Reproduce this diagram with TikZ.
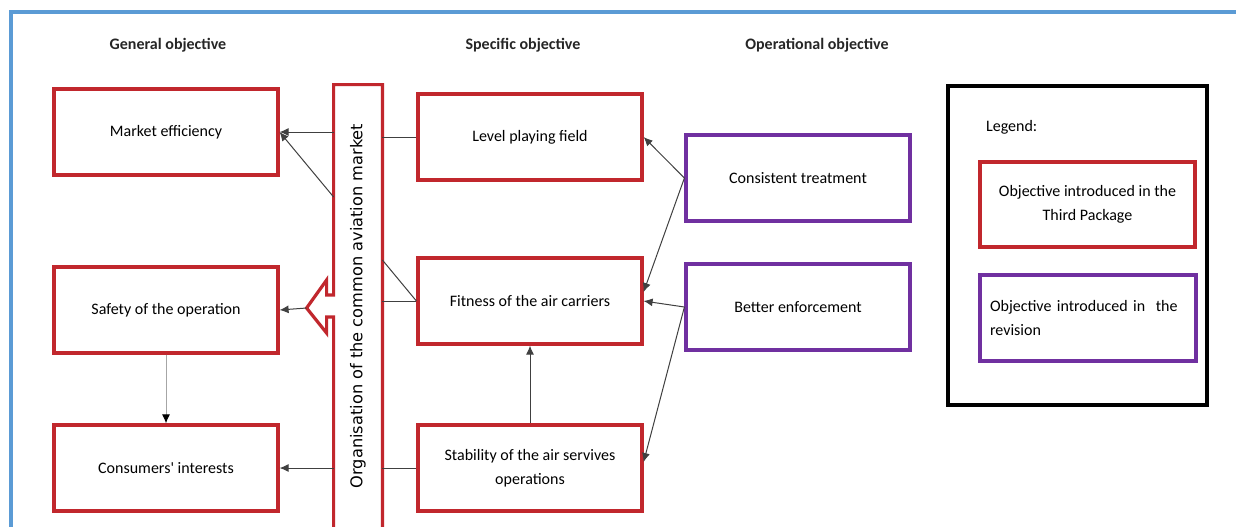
\documentclass[tikz,border=0pt]{standalone}
\usepackage{fontspec}
\setmainfont{Carlito}
\newfontfamily\orgfont{DejaVu Sans}
\usepackage{graphicx}
\usetikzlibrary{positioning, arrows.meta}
\definecolor{boxred}{HTML}{C1272D}
\definecolor{boxpurple}{HTML}{7030A0}
\definecolor{frameblue}{HTML}{5B9BD5}
\definecolor{linegray}{HTML}{404040}

\begin{document}
\begin{tikzpicture}[x=0.5pt,y=-0.5pt,
>={Latex[length=4.5pt,width=4pt]},
obj/.style={draw=boxred,line width=1.6pt,minimum width=112pt,minimum height=43pt,align=center,font=\fontsize{8}{12}\selectfont},
opobj/.style={obj,draw=boxpurple},
head/.style={font=\fontsize{8}{10}\selectfont\bfseries,text=black!85},
link/.style={draw=linegray,line width=0.5pt},
arr/.style={link,->}
]
\useasboundingbox (0,0) rectangle (1236,526);
\clip (0,0) rectangle (1236,526);
\fill[white] (0,0) rectangle (1236,526);
\draw[frameblue,line width=2pt] (10.5,540) -- (10.5,12) -- (1250,12);

% column titles
\node[head] (hgen) at (168,45) {General objective};
\node[head] (hspec) at (523,45) {Specific objective};
\node[head] (hop) at (817,45) {Operational objective};

% general objectives
\node[obj] (mkt) at (166,132) {Market efficiency};
\node[obj] (safety) at (166,310) {Safety of the operation};
\node[obj] (cons) at (166,468) {Consumers\textquotesingle\ interests};

% specific objectives
\node[obj] (lpf) at (530,137) {Level playing field};
\node[obj] (fit) at (530,301) {Fitness of the air carriers};
\node[obj] (stab) at (530,468) {Stability of the air servives\\operations};

% operational objectives
\node[opobj] (ct) at (798,178) {Consistent treatment};
\node[opobj] (be) at (798,307) {Better enforcement};

% common market bar with arrow
\node[minimum width=24pt,minimum height=221pt,inner sep=0pt] (org) at (358,306)
  {\orgfont\fontsize{8.1}{9}\selectfont\rotatebox{90}{Organisation of the common aviation market}};
\draw[boxred,line width=1.6pt] (org.south west) -- (org.west |- 0,317) -- ++(-7,0) -- ++(0,16)
  -- ++(-20,-25) coordinate (tip) -- ++(20,-28) -- ++(0,15) -- (org.west |- 0,295)
  -- (org.north west) -- (org.north east) -- (org.south east);

% links
\draw[arr] (mkt.east -| org.west) -- (mkt.east);
\draw[arr] (org.west |- 0,197) -- (mkt.east);
\draw[arr] (tip) -- (safety.east);
\draw[arr] (cons.east -| org.west) -- (cons.east);
\draw[link] (lpf.west) -- (lpf.west -| org.east);
\draw[link] (fit.west) -- (org.east |- 0,260);
\draw[link] (fit.west) -- (fit.west -| org.east);
\draw[link] (stab.west) -- (stab.west -| org.east);
\draw[link,draw=black!35,-{Latex[length=4.5pt,width=4pt,black]}] (safety.south) -- (cons.north);
\draw[arr] (stab.north) -- (fit.south);
\draw[arr] (ct.west) -- (lpf.east);
\draw[arr] (ct.west) -- ([yshift=4.5pt]fit.east);
\draw[arr] (be.west) -- (fit.east);
\draw[arr] (be.west) -- ([yshift=3pt]stab.east);

% legend
\node[draw,line width=2pt,minimum width=129.5pt,minimum height=159.5pt] (legend) at (1077.5,245.5) {};
\node[anchor=west,font=\fontsize{8}{12}\selectfont] (legtitle) at (979,127) {Legend:};
\node[obj,minimum width=107.5pt,minimum height=42.5pt] (legred) at (1087.5,204.5) {Objective introduced in the\\Third Package};
\node[opobj,align=left,minimum width=108pt,text width=98pt,inner sep=5pt] (legpurple) at (1088,318) {Objective introduced in~ the\\revision};
\end{tikzpicture}
\end{document}
